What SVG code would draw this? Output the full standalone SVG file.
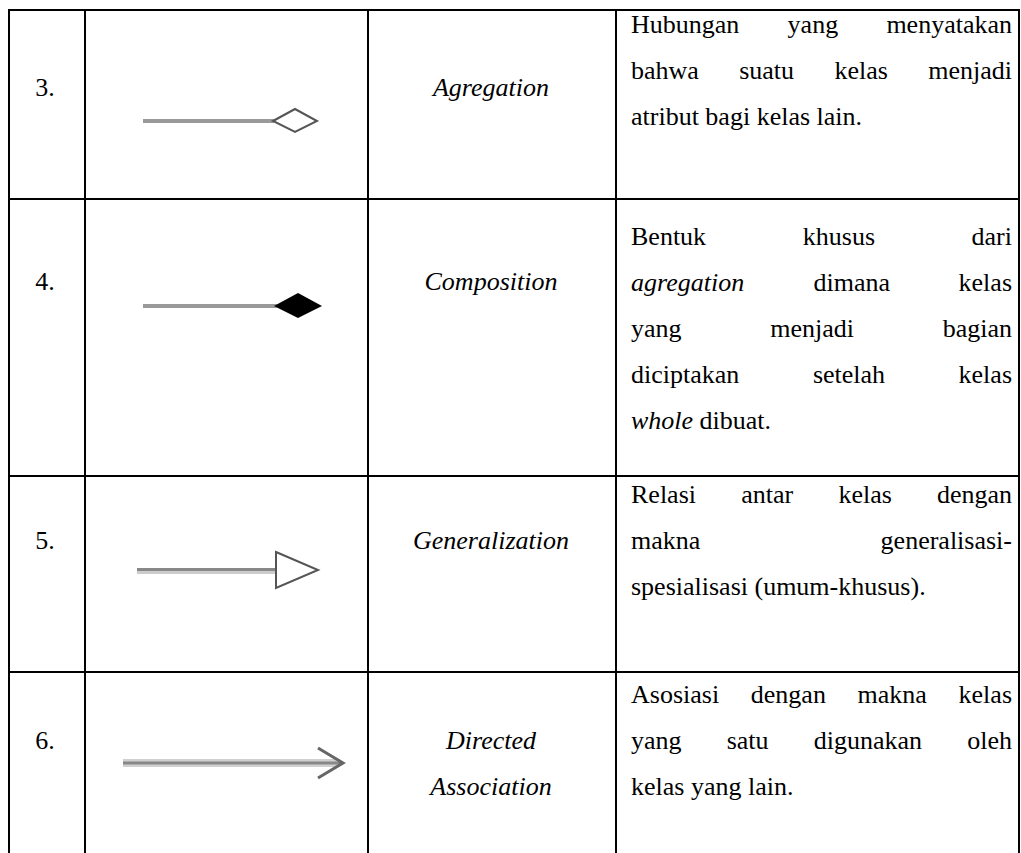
<svg xmlns="http://www.w3.org/2000/svg" width="1021" height="853" viewBox="0 0 1021 853">
<style>
text{font-family:"Liberation Serif","Times New Roman",serif;font-size:26px;fill:#000}
.it{font-style:italic}
.mid{text-anchor:middle}
.end{text-anchor:end}
.grid{stroke:#000;stroke-width:2;fill:none}
.ln{stroke:#999;stroke-width:4;fill:none}
.hd{stroke:#555;stroke-width:2;fill:#fff}
</style>
<rect width="1021" height="853" fill="#fff"/>
<g id="table" class="grid">
<path d="M9,853 V10 H1019 V853"/>
<line x1="85" y1="10" x2="85" y2="853"/>
<line x1="368" y1="10" x2="368" y2="853"/>
<line x1="616" y1="10" x2="616" y2="853"/>
<line x1="9" y1="199" x2="1019" y2="199"/>
<line x1="9" y1="476" x2="1019" y2="476"/>
<line x1="9" y1="672" x2="1019" y2="672"/>
</g>
<g id="connectors">
<g id="agg-symbol">
<line class="ln" x1="143" y1="121" x2="274" y2="121"/>
<polygon class="hd" points="273,121 295,109 317,121 295,132"/>
</g>
<g id="comp-symbol">
<line class="ln" x1="143" y1="306" x2="277" y2="306"/>
<polygon points="274,306 298,293 322,306 298,318" fill="#000"/>
</g>
<g id="gen-symbol">
<line x1="137" y1="571" x2="276" y2="571" stroke="#ccc" stroke-width="6"/>
<line x1="137" y1="569.5" x2="276" y2="569.5" stroke="#888" stroke-width="3"/>
<polygon class="hd" points="276,552 318,570 276,588"/>
</g>
<g id="dir-symbol">
<line x1="123" y1="763" x2="340" y2="763" stroke="#d0d0d0" stroke-width="8"/>
<line x1="123" y1="763" x2="340" y2="763" stroke="#888" stroke-width="3"/>
<polyline points="318,748 343,763 318,778" fill="none" stroke="#666" stroke-width="3"/>
</g>
</g>
<g id="row3">
<text class="mid" x="45" y="96">3.</text>
<text class="mid it" x="491" y="96">Agregation</text>
<text y="33"><tspan x="631">Hubungan</tspan><tspan x="787.6">yang</tspan><tspan x="1012" class="end">menyatakan</tspan></text>
<text y="79"><tspan x="631">bahwa</tspan><tspan x="739.2">suatu</tspan><tspan x="834.4">kelas</tspan><tspan x="1012" class="end">menjadi</tspan></text>
<text x="631" y="125">atribut bagi kelas lain.</text>
</g>
<g id="row4">
<text class="mid" x="45" y="290">4.</text>
<text class="mid it" x="491" y="290">Composition</text>
<text y="245"><tspan x="631">Bentuk</tspan><tspan x="802.8">khusus</tspan><tspan x="1012" class="end">dari</tspan></text>
<text y="291"><tspan x="631" class="it">agregation</tspan><tspan x="813.6">dimana</tspan><tspan x="1012" class="end">kelas</tspan></text>
<text y="337"><tspan x="631">yang</tspan><tspan x="770.2">menjadi</tspan><tspan x="1012" class="end">bagian</tspan></text>
<text y="383"><tspan x="631">diciptakan</tspan><tspan x="812.9">setelah</tspan><tspan x="1012" class="end">kelas</tspan></text>
<text x="631" y="429"><tspan class="it">whole</tspan> dibuat.</text>
</g>
<g id="row5">
<text class="mid" x="45" y="549">5.</text>
<text class="mid it" x="491" y="549">Generalization</text>
<text y="503"><tspan x="631">Relasi</tspan><tspan x="741.2">antar</tspan><tspan x="838.4">kelas</tspan><tspan x="1012" class="end">dengan</tspan></text>
<text y="549"><tspan x="631">makna</tspan><tspan x="1012" class="end">generalisasi-</tspan></text>
<text x="631" y="595">spesialisasi (umum-khusus).</text>
</g>
<g id="row6">
<text class="mid" x="45" y="749">6.</text>
<text class="mid it" x="491" y="749">Directed</text>
<text class="mid it" x="491" y="795">Association</text>
<text y="703"><tspan x="631">Asosiasi</tspan><tspan x="750.8">dengan</tspan><tspan x="857.6">makna</tspan><tspan x="1012" class="end">kelas</tspan></text>
<text y="749"><tspan x="631">yang</tspan><tspan x="726.7">satu</tspan><tspan x="813.8">digunakan</tspan><tspan x="1012" class="end">oleh</tspan></text>
<text x="631" y="795">kelas yang lain.</text>
</g>
</svg>
